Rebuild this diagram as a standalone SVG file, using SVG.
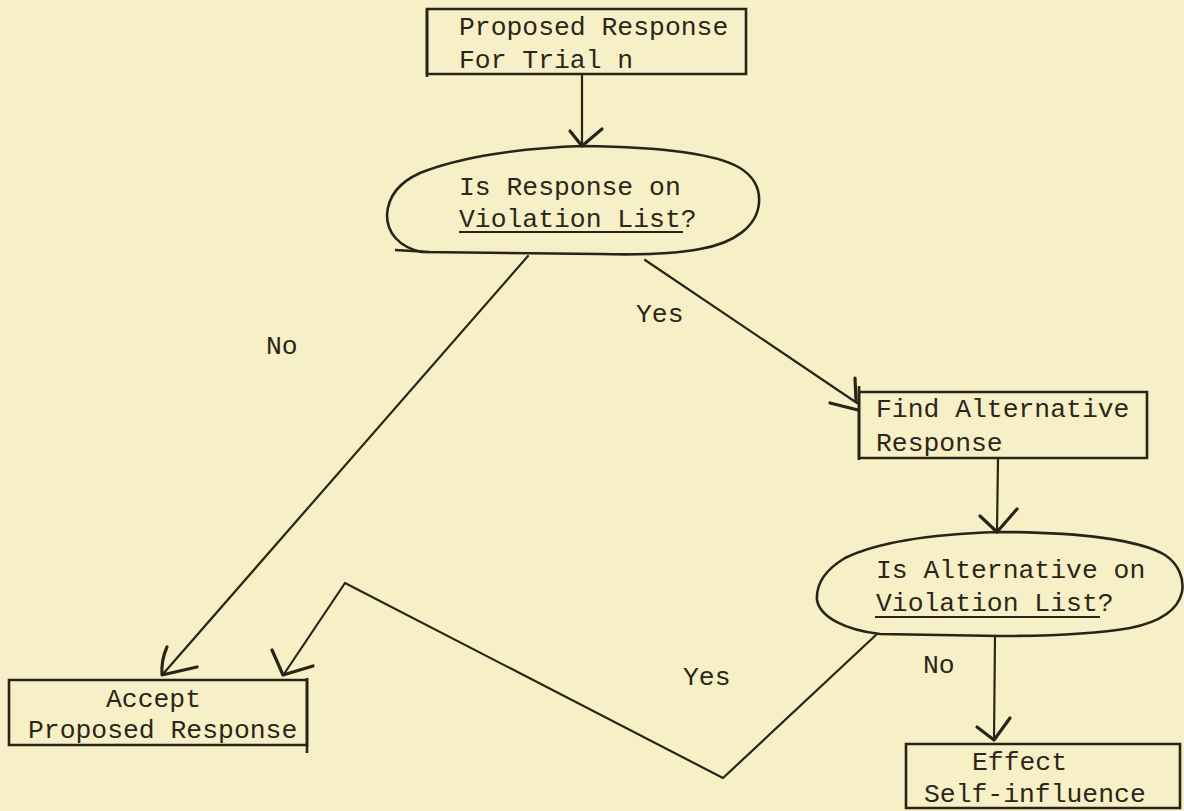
<svg xmlns="http://www.w3.org/2000/svg" width="1184" height="811" viewBox="0 0 1184 811">
  <style>
    .bg { fill: #f7f0c7; }
    .box { fill: none; stroke: #2a2418; stroke-width: 2.6; stroke-linejoin: miter; }
    .oval { fill: none; stroke: #2a2418; stroke-width: 2.6; stroke-linejoin: round; }
    .edge { fill: none; stroke: #2a2418; stroke-width: 2.2; stroke-linecap: round; stroke-linejoin: round; }
    .head { fill: none; stroke: #2a2418; stroke-width: 3.2; stroke-linecap: round; stroke-linejoin: round; }
    .ul { stroke: #2a2418; stroke-width: 2; }
    text { font-family: "Liberation Mono", "DejaVu Sans Mono", monospace; font-size: 26.4px; fill: #2b2619; }
  </style>

  <rect class="bg" x="0" y="0" width="1184" height="811"/>

  <!-- connectors -->
  <g id="connectors">
    <!-- start box to first decision -->
    <path class="edge" d="M 582 75 L 582 146"/>
    <path class="head" d="M 570 131 L 582 146 L 602 129"/>

    <!-- first decision: No -> accept -->
    <path class="edge" d="M 528 256 L 163 674"/>
    <path class="head" d="M 167 647 Q 161 660 162 675 L 197 667"/>

    <!-- first decision: Yes -> find alternative -->
    <path class="edge" d="M 645 260 L 857 403"/>
    <path class="head" d="M 855 378 L 856 401 M 830 403 L 858 410"/>

    <!-- find alternative to second decision -->
    <path class="edge" d="M 998 458 L 997 531"/>
    <path class="head" d="M 980 516 L 997 532 L 1017 509"/>

    <!-- second decision: No -> effect self-influence -->
    <path class="edge" d="M 995 636 L 994 739"/>
    <path class="head" d="M 977 727 L 994 740 L 1010 718"/>

    <!-- second decision: Yes -> back to accept -->
    <path class="edge" d="M 877 634 L 723 778 L 345 583 L 284 674"/>
    <path class="head" d="M 272 650 L 283 675 L 313 666"/>
  </g>

  <!-- edge labels -->
  <g id="labels">
    <text x="266" y="354">No</text>
    <text x="636" y="322">Yes</text>
    <text x="683" y="685">Yes</text>
    <text x="923" y="673">No</text>
  </g>

  <g id="node-proposed">
    <path class="box" d="M 427 9 L 746 9 L 746 74 L 427 74 Z"/>
    <path class="box" d="M 427 9 L 427 77"/>
    <text x="459" y="35">Proposed Response</text>
    <text x="459" y="68">For Trial n</text>
  </g>

  <g id="node-check-response">
    <path class="oval" d="M 583 146 C 660 147 717 154 740 168 C 756 178 760 190 759 203 C 757 226 735 243 700 249 C 675 254 640 255 600 254 L 422 252 C 398 247 387 232 387 215 C 388 196 400 182 420 173 C 460 157 520 148 583 146 Z"/>
    <path class="oval" d="M 395 250 L 430 252"/>
    <text x="459" y="195">Is Response on</text>
    <text x="459" y="227">Violation List?</text>
    <line class="ul" x1="459" y1="232" x2="683" y2="232"/>
  </g>

  <g id="node-find-alternative">
    <path class="box" d="M 859 392 L 1147 392 L 1147 458 L 859 458 Z"/>
    <path class="box" d="M 859 386 L 859 460"/>
    <text x="876" y="417">Find Alternative</text>
    <text x="876" y="451">Response</text>
  </g>

  <g id="node-check-alternative">
    <path class="oval" d="M 997 532 C 1080 532 1140 540 1165 555 C 1180 565 1184 580 1182 592 C 1178 610 1160 622 1130 628 C 1095 634 1050 636 1000 636 L 880 634 C 845 630 820 617 817 600 C 816 585 825 570 845 558 C 880 541 935 534 997 532 Z"/>
    <text x="876" y="578">Is Alternative on</text>
    <text x="876" y="611">Violation List?</text>
    <line class="ul" x1="875" y1="617" x2="1100" y2="617"/>
  </g>

  <g id="node-accept">
    <path class="box" d="M 9 680 L 307 680 L 307 745 L 9 745 Z"/>
    <path class="box" d="M 307 678 L 307 753"/>
    <text x="106" y="707">Accept</text>
    <text x="28" y="738">Proposed Response</text>
  </g>

  <g id="node-effect">
    <path class="box" d="M 906 744 L 1180 744 L 1180 808 L 906 808 Z"/>
    <text x="972" y="770">Effect</text>
    <text x="924" y="802">Self-influence</text>
  </g>
</svg>
